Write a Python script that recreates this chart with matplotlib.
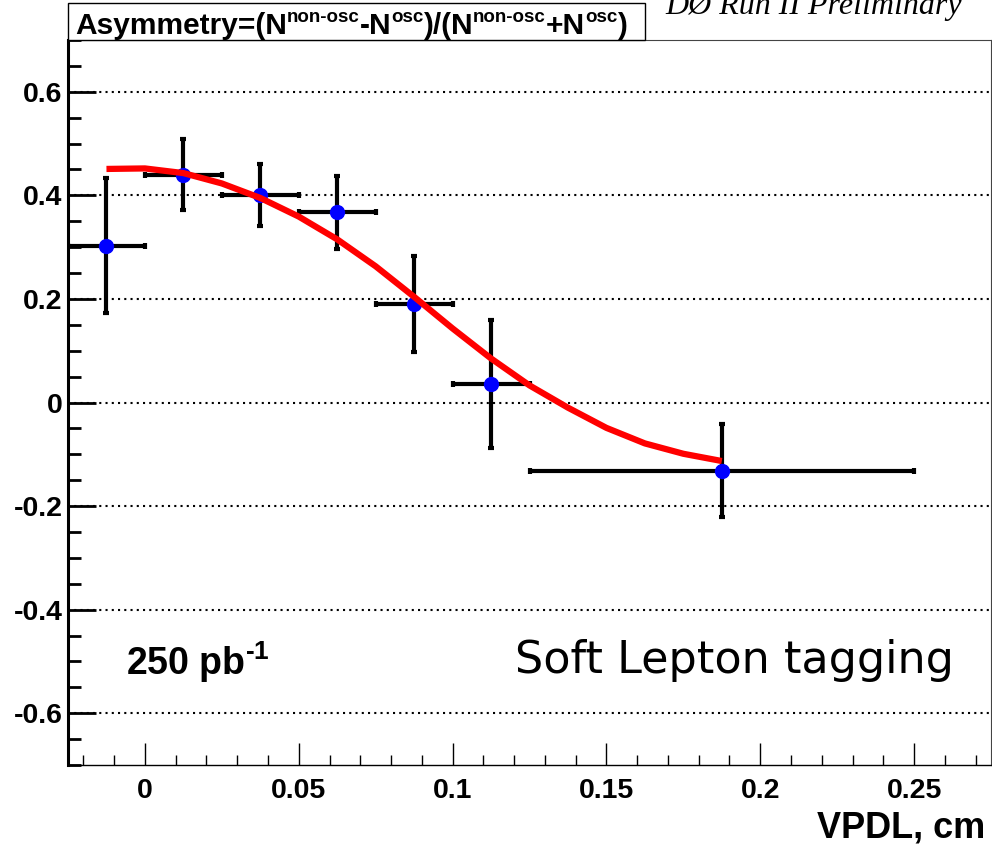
import matplotlib
matplotlib.use('Agg')
import matplotlib.pyplot as plt
from matplotlib import font_manager
from matplotlib.patches import Rectangle
from matplotlib.ticker import MultipleLocator, FuncFormatter

# measured points (bin centres, half widths, asymmetry, errors)
vpdl = [-0.0125, 0.0125, 0.0375, 0.0625, 0.0875, 0.1125, 0.1875]
vpdl_err = [0.0125, 0.0125, 0.0125, 0.0125, 0.0125, 0.0125, 0.0625]
asym = [0.303, 0.440, 0.401, 0.367, 0.190, 0.036, -0.132]
asym_err = [0.130, 0.069, 0.060, 0.070, 0.092, 0.124, 0.090]

# fit curve
fit_x = [-0.0125, 0.0, 0.0125, 0.025, 0.0375, 0.05, 0.0625, 0.075, 0.0875,
         0.1, 0.1125, 0.125, 0.1375, 0.15, 0.1625, 0.175, 0.1875]
fit_y = [0.451, 0.452, 0.443, 0.423, 0.395, 0.359, 0.315, 0.263, 0.204,
         0.143, 0.085, 0.033, -0.010, -0.049, -0.079, -0.099, -0.113]

x_major = [0.0, 0.05, 0.1, 0.15, 0.2, 0.25]
y_major = [-0.6, -0.4, -0.2, 0.0, 0.2, 0.4, 0.6]

installed = {f.name for f in font_manager.fontManager.ttflist}
narrow = 'Liberation Sans Narrow' in installed
title_fam = ['Liberation Sans Narrow', 'Liberation Sans'] if narrow else ['Liberation Sans']

plt.rcParams['font.family'] = ['Liberation Sans', 'DejaVu Sans']
plt.rcParams['font.weight'] = 'bold'
plt.rcParams['mathtext.fontset'] = 'custom'
plt.rcParams['mathtext.rm'] = 'Liberation Sans:bold'
plt.rcParams['mathtext.it'] = 'Liberation Sans:bold:italic'
plt.rcParams['mathtext.bf'] = 'Liberation Sans:bold'
plt.rcParams['axes.unicode_minus'] = False

W, H = 992, 846
fig = plt.figure(figsize=(W / 100, H / 100), dpi=100)
ax = fig.add_axes([68 / W, 1 - 765 / H, (991 - 68) / W, (765 - 40) / H])

ax.errorbar(vpdl, asym, xerr=vpdl_err, yerr=asym_err, fmt='none',
            ecolor='black', elinewidth=3, capsize=2, capthick=3, zorder=2)
ax.plot(vpdl, asym, 'o', color='#0000ff', ms=11, mec='none', zorder=3)
ax.plot(fit_x, fit_y, color='#ff0000', lw=4.5, solid_capstyle='butt',
        solid_joinstyle='round', zorder=4)

ax.set_xlim(-0.025, 0.275)
ax.set_ylim(-0.7, 0.7)
ax.set_xticks(x_major)
ax.set_yticks(y_major)
ax.xaxis.set_minor_locator(MultipleLocator(0.01))
ax.yaxis.set_minor_locator(MultipleLocator(0.05))


def fmt(v, pos):
    if abs(v) < 1e-9:
        return '0'
    return '%g' % round(v, 4)


ax.xaxis.set_major_formatter(FuncFormatter(fmt))
ax.yaxis.set_major_formatter(FuncFormatter(fmt))

ax.yaxis.grid(True, which='major', linestyle=(0, (1, 2)), color='black', lw=1.5)
ax.set_axisbelow(True)

ax.tick_params(axis='y', which='major', direction='in', length=20, width=2,
               pad=4, labelsize=20.5)
ax.tick_params(axis='y', which='minor', direction='in', length=9.5, width=2)
ax.tick_params(axis='x', which='major', direction='in', length=16, width=1,
               pad=9, labelsize=20.5)
ax.tick_params(axis='x', which='minor', direction='in', length=7, width=1)

ax.spines['left'].set_linewidth(2.2)
ax.spines['bottom'].set_linewidth(1)
ax.spines['top'].set_linewidth(0.8)
ax.spines['right'].set_linewidth(0.8)
ax.spines['top'].set_color('#444444')
ax.spines['right'].set_color('#444444')

# title box, built piece by piece so the superscripts sit high like ROOT's
fig.add_artist(Rectangle((68 / W, 1 - 40 / H), (645 - 68) / W, 37 / H,
                         transform=fig.transFigure, fc='white', ec='black',
                         lw=1, zorder=5))
main_size = 24 if narrow else 21.5
sup_size = 15 if narrow else 13.5
pieces = [('Asymmetry=(N', main_size, 0), ('non-osc', sup_size, 12),
          ('-N', main_size, 0), ('osc', sup_size, 12),
          (')/(N', main_size, 0), ('non-osc', sup_size, 12),
          ('+N', main_size, 0), ('osc', sup_size, 12), (')', main_size, 0)]
renderer = fig.canvas.get_renderer()
xpos = 75
for txt, size, dy in pieces:
    t = fig.text(xpos / W, 1 - (34 - dy) / H, txt, family=title_fam,
                 fontsize=size, va='baseline', ha='left', zorder=6)
    xpos += t.get_window_extent(renderer).width

fig.text(665 / W, 1 - 14 / H, 'DØ Run II Preliminary', family='Liberation Serif',
         style='italic', weight='normal', fontsize=23, va='baseline', ha='left')

fig.text(985 / W, 1 - 837 / H, 'VPDL, cm', fontsize=26, ha='right', va='baseline')
fig.text(126 / W, 1 - 675 / H, r'250 pb$^{\text{-1}}$', fontsize=27,
         ha='left', va='baseline')
fig.text(515 / W, 1 - 673 / H, 'Soft Lepton tagging', family='DejaVu Sans',
         weight='normal', fontsize=32, ha='left', va='baseline')

fig.savefig('out.png', dpi=100)
